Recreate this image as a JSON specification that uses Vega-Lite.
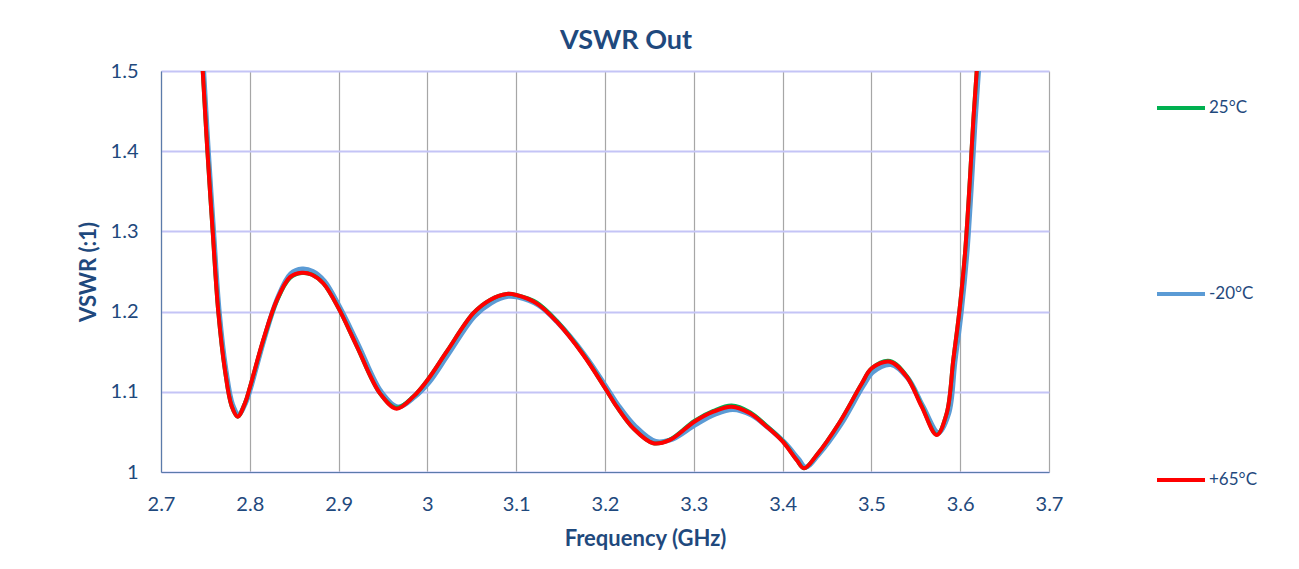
{
  "$schema": "https://vega.github.io/schema/vega-lite/v6.json",
  "width": 888,
  "height": 401,
  "autosize": {"type": "none"},
  "padding": {"left": 161, "top": 71, "right": 250, "bottom": 97},
  "background": "white",
  "title": {
    "text": "VSWR Out",
    "font": "Lato",
    "fontSize": 27,
    "fontWeight": "bold",
    "color": "#1F497D",
    "anchor": "middle",
    "frame": "group",
    "baseline": "bottom",
    "offset": -21,
    "dx": 21
  },
  "config": {
    "view": {"stroke": null},
    "font": "Lato"
  },
  "datasets": {
    "vswr": [
      {"f": 2.743, "v": 1.59, "s": "-20°C"},
      {"f": 2.748, "v": 1.5, "s": "-20°C"},
      {"f": 2.7532, "v": 1.401, "s": "-20°C"},
      {"f": 2.7592, "v": 1.3, "s": "-20°C"},
      {"f": 2.7655, "v": 1.2, "s": "-20°C"},
      {"f": 2.773, "v": 1.128, "s": "-20°C"},
      {"f": 2.7806, "v": 1.084, "s": "-20°C"},
      {"f": 2.7874, "v": 1.072, "s": "-20°C"},
      {"f": 2.7956, "v": 1.087, "s": "-20°C"},
      {"f": 2.801, "v": 1.105, "s": "-20°C"},
      {"f": 2.816, "v": 1.165, "s": "-20°C"},
      {"f": 2.831, "v": 1.216, "s": "-20°C"},
      {"f": 2.846, "v": 1.247, "s": "-20°C"},
      {"f": 2.859, "v": 1.253, "s": "-20°C"},
      {"f": 2.871, "v": 1.25, "s": "-20°C"},
      {"f": 2.884, "v": 1.238, "s": "-20°C"},
      {"f": 2.901, "v": 1.206, "s": "-20°C"},
      {"f": 2.922, "v": 1.159, "s": "-20°C"},
      {"f": 2.948, "v": 1.1, "s": "-20°C"},
      {"f": 2.967, "v": 1.081, "s": "-20°C"},
      {"f": 2.986, "v": 1.094, "s": "-20°C"},
      {"f": 3.002, "v": 1.112, "s": "-20°C"},
      {"f": 3.023, "v": 1.146, "s": "-20°C"},
      {"f": 3.053, "v": 1.194, "s": "-20°C"},
      {"f": 3.072, "v": 1.211, "s": "-20°C"},
      {"f": 3.091, "v": 1.219, "s": "-20°C"},
      {"f": 3.102, "v": 1.218, "s": "-20°C"},
      {"f": 3.125, "v": 1.208, "s": "-20°C"},
      {"f": 3.147, "v": 1.186, "s": "-20°C"},
      {"f": 3.177, "v": 1.146, "s": "-20°C"},
      {"f": 3.202, "v": 1.105, "s": "-20°C"},
      {"f": 3.215, "v": 1.083, "s": "-20°C"},
      {"f": 3.234, "v": 1.057, "s": "-20°C"},
      {"f": 3.257, "v": 1.038, "s": "-20°C"},
      {"f": 3.276, "v": 1.041, "s": "-20°C"},
      {"f": 3.302, "v": 1.059, "s": "-20°C"},
      {"f": 3.324, "v": 1.072, "s": "-20°C"},
      {"f": 3.344, "v": 1.078, "s": "-20°C"},
      {"f": 3.365, "v": 1.071, "s": "-20°C"},
      {"f": 3.384, "v": 1.055, "s": "-20°C"},
      {"f": 3.402, "v": 1.037, "s": "-20°C"},
      {"f": 3.418, "v": 1.016, "s": "-20°C"},
      {"f": 3.426, "v": 1.006, "s": "-20°C"},
      {"f": 3.44, "v": 1.021, "s": "-20°C"},
      {"f": 3.466, "v": 1.06, "s": "-20°C"},
      {"f": 3.491, "v": 1.108, "s": "-20°C"},
      {"f": 3.502, "v": 1.125, "s": "-20°C"},
      {"f": 3.522, "v": 1.134, "s": "-20°C"},
      {"f": 3.541, "v": 1.117, "s": "-20°C"},
      {"f": 3.558, "v": 1.082, "s": "-20°C"},
      {"f": 3.5755, "v": 1.049, "s": "-20°C"},
      {"f": 3.587, "v": 1.073, "s": "-20°C"},
      {"f": 3.594, "v": 1.137, "s": "-20°C"},
      {"f": 3.601, "v": 1.198, "s": "-20°C"},
      {"f": 3.6074, "v": 1.271, "s": "-20°C"},
      {"f": 3.6131, "v": 1.367, "s": "-20°C"},
      {"f": 3.6168, "v": 1.438, "s": "-20°C"},
      {"f": 3.6206, "v": 1.5, "s": "-20°C"},
      {"f": 3.625, "v": 1.59, "s": "-20°C"},

      {"f": 2.742, "v": 1.59, "s": "25°C"},
      {"f": 2.747, "v": 1.5, "s": "25°C"},
      {"f": 2.7522, "v": 1.401, "s": "25°C"},
      {"f": 2.7582, "v": 1.3, "s": "25°C"},
      {"f": 2.7645, "v": 1.2, "s": "25°C"},
      {"f": 2.772, "v": 1.127, "s": "25°C"},
      {"f": 2.7796, "v": 1.082, "s": "25°C"},
      {"f": 2.7864, "v": 1.069, "s": "25°C"},
      {"f": 2.7946, "v": 1.086, "s": "25°C"},
      {"f": 2.8002, "v": 1.106, "s": "25°C"},
      {"f": 2.8152, "v": 1.164, "s": "25°C"},
      {"f": 2.8303, "v": 1.213, "s": "25°C"},
      {"f": 2.8453, "v": 1.242, "s": "25°C"},
      {"f": 2.8585, "v": 1.248, "s": "25°C"},
      {"f": 2.87, "v": 1.246, "s": "25°C"},
      {"f": 2.8829, "v": 1.235, "s": "25°C"},
      {"f": 2.9, "v": 1.204, "s": "25°C"},
      {"f": 2.9204, "v": 1.157, "s": "25°C"},
      {"f": 2.9466, "v": 1.098, "s": "25°C"},
      {"f": 2.9654, "v": 1.08, "s": "25°C"},
      {"f": 2.9841, "v": 1.094, "s": "25°C"},
      {"f": 3.0003, "v": 1.115, "s": "25°C"},
      {"f": 3.0217, "v": 1.15, "s": "25°C"},
      {"f": 3.0517, "v": 1.198, "s": "25°C"},
      {"f": 3.0705, "v": 1.2145, "s": "25°C"},
      {"f": 3.0893, "v": 1.222, "s": "25°C"},
      {"f": 3.1001, "v": 1.2207, "s": "25°C"},
      {"f": 3.123, "v": 1.2113, "s": "25°C"},
      {"f": 3.1456, "v": 1.1884, "s": "25°C"},
      {"f": 3.1756, "v": 1.1465, "s": "25°C"},
      {"f": 3.2003, "v": 1.1043, "s": "25°C"},
      {"f": 3.2132, "v": 1.0815, "s": "25°C"},
      {"f": 3.2319, "v": 1.0544, "s": "25°C"},
      {"f": 3.2544, "v": 1.0358, "s": "25°C"},
      {"f": 3.2732, "v": 1.0405, "s": "25°C"},
      {"f": 3.3006, "v": 1.0637, "s": "25°C"},
      {"f": 3.322, "v": 1.0762, "s": "25°C"},
      {"f": 3.3426, "v": 1.0828, "s": "25°C"},
      {"f": 3.3633, "v": 1.0745, "s": "25°C"},
      {"f": 3.3821, "v": 1.0575, "s": "25°C"},
      {"f": 3.4002, "v": 1.0385, "s": "25°C"},
      {"f": 3.4158, "v": 1.0152, "s": "25°C"},
      {"f": 3.4241, "v": 1.0046, "s": "25°C"},
      {"f": 3.4384, "v": 1.0212, "s": "25°C"},
      {"f": 3.4646, "v": 1.0627, "s": "25°C"},
      {"f": 3.489, "v": 1.11, "s": "25°C"},
      {"f": 3.5003, "v": 1.1293, "s": "25°C"},
      {"f": 3.5209, "v": 1.1385, "s": "25°C"},
      {"f": 3.5397, "v": 1.1198, "s": "25°C"},
      {"f": 3.5566, "v": 1.0825, "s": "25°C"},
      {"f": 3.5735, "v": 1.0465, "s": "25°C"},
      {"f": 3.5848, "v": 1.0732, "s": "25°C"},
      {"f": 3.5922, "v": 1.1397, "s": "25°C"},
      {"f": 3.599, "v": 1.1999, "s": "25°C"},
      {"f": 3.6054, "v": 1.2727, "s": "25°C"},
      {"f": 3.6111, "v": 1.3683, "s": "25°C"},
      {"f": 3.6148, "v": 1.4389, "s": "25°C"},
      {"f": 3.6186, "v": 1.5, "s": "25°C"},
      {"f": 3.623, "v": 1.59, "s": "25°C"},

      {"f": 2.742, "v": 1.59, "s": "+65°C"},
      {"f": 2.747, "v": 1.5, "s": "+65°C"},
      {"f": 2.7522, "v": 1.401, "s": "+65°C"},
      {"f": 2.7582, "v": 1.3, "s": "+65°C"},
      {"f": 2.7645, "v": 1.2, "s": "+65°C"},
      {"f": 2.772, "v": 1.127, "s": "+65°C"},
      {"f": 2.7796, "v": 1.082, "s": "+65°C"},
      {"f": 2.7864, "v": 1.069, "s": "+65°C"},
      {"f": 2.7946, "v": 1.086, "s": "+65°C"},
      {"f": 2.8002, "v": 1.106, "s": "+65°C"},
      {"f": 2.8152, "v": 1.165, "s": "+65°C"},
      {"f": 2.8303, "v": 1.214, "s": "+65°C"},
      {"f": 2.8453, "v": 1.243, "s": "+65°C"},
      {"f": 2.8585, "v": 1.2485, "s": "+65°C"},
      {"f": 2.87, "v": 1.246, "s": "+65°C"},
      {"f": 2.8829, "v": 1.235, "s": "+65°C"},
      {"f": 2.9, "v": 1.204, "s": "+65°C"},
      {"f": 2.9204, "v": 1.157, "s": "+65°C"},
      {"f": 2.9466, "v": 1.098, "s": "+65°C"},
      {"f": 2.9654, "v": 1.079, "s": "+65°C"},
      {"f": 2.9841, "v": 1.094, "s": "+65°C"},
      {"f": 3.0003, "v": 1.115, "s": "+65°C"},
      {"f": 3.0217, "v": 1.15, "s": "+65°C"},
      {"f": 3.0517, "v": 1.198, "s": "+65°C"},
      {"f": 3.0705, "v": 1.2145, "s": "+65°C"},
      {"f": 3.0893, "v": 1.222, "s": "+65°C"},
      {"f": 3.1001, "v": 1.2207, "s": "+65°C"},
      {"f": 3.123, "v": 1.2103, "s": "+65°C"},
      {"f": 3.1456, "v": 1.1874, "s": "+65°C"},
      {"f": 3.1756, "v": 1.1459, "s": "+65°C"},
      {"f": 3.2003, "v": 1.1043, "s": "+65°C"},
      {"f": 3.2132, "v": 1.0815, "s": "+65°C"},
      {"f": 3.2319, "v": 1.0544, "s": "+65°C"},
      {"f": 3.2544, "v": 1.0358, "s": "+65°C"},
      {"f": 3.2732, "v": 1.04, "s": "+65°C"},
      {"f": 3.3006, "v": 1.0627, "s": "+65°C"},
      {"f": 3.322, "v": 1.0752, "s": "+65°C"},
      {"f": 3.3426, "v": 1.0815, "s": "+65°C"},
      {"f": 3.3633, "v": 1.0732, "s": "+65°C"},
      {"f": 3.3821, "v": 1.0565, "s": "+65°C"},
      {"f": 3.4002, "v": 1.0378, "s": "+65°C"},
      {"f": 3.4158, "v": 1.015, "s": "+65°C"},
      {"f": 3.4241, "v": 1.0046, "s": "+65°C"},
      {"f": 3.4384, "v": 1.0212, "s": "+65°C"},
      {"f": 3.4646, "v": 1.0627, "s": "+65°C"},
      {"f": 3.489, "v": 1.11, "s": "+65°C"},
      {"f": 3.5003, "v": 1.1293, "s": "+65°C"},
      {"f": 3.5209, "v": 1.1375, "s": "+65°C"},
      {"f": 3.5397, "v": 1.1188, "s": "+65°C"},
      {"f": 3.5566, "v": 1.0815, "s": "+65°C"},
      {"f": 3.5735, "v": 1.0461, "s": "+65°C"},
      {"f": 3.5848, "v": 1.0732, "s": "+65°C"},
      {"f": 3.5922, "v": 1.1397, "s": "+65°C"},
      {"f": 3.599, "v": 1.1999, "s": "+65°C"},
      {"f": 3.6054, "v": 1.2727, "s": "+65°C"},
      {"f": 3.6111, "v": 1.3683, "s": "+65°C"},
      {"f": 3.6148, "v": 1.4389, "s": "+65°C"},
      {"f": 3.6186, "v": 1.5, "s": "+65°C"},
      {"f": 3.623, "v": 1.59, "s": "+65°C"}
    ]
  },
  "data": {"name": "vswr"},
  "encoding": {
    "x": {
      "field": "f",
      "type": "quantitative",
      "scale": {"domain": [2.7, 3.7], "nice": false, "zero": false},
      "axis": {
        "title": "Frequency (GHz)",
        "values": [2.7, 2.8, 2.9, 3.0, 3.1, 3.2, 3.3, 3.4, 3.5, 3.6, 3.7],
        "format": ".1~f",
        "grid": true,
        "gridColor": "#a6a6a6",
        "gridWidth": 1.2,
        "domainColor": "#5b7bab",
        "domainWidth": 1.2,
        "ticks": false,
        "labelFont": "Lato",
        "labelFontSize": 20,
        "labelColor": "#1F497D",
        "labelPadding": 22,
        "labelFlush": false,
        "titleFont": "Lato",
        "titleFontSize": 22,
        "titleFontWeight": "bold",
        "titleColor": "#1F497D",
        "titlePadding": 14,
        "titleX": 484
      }
    },
    "y": {
      "field": "v",
      "type": "quantitative",
      "scale": {"domain": [1, 1.5], "nice": false, "zero": false},
      "axis": {
        "title": "VSWR (:1)",
        "values": [1, 1.1, 1.2, 1.3, 1.4, 1.5],
        "format": ".1~f",
        "grid": true,
        "gridColor": "#c4c4f6",
        "gridWidth": 1.8,
        "domainColor": "#5b7bab",
        "domainWidth": 1.2,
        "ticks": false,
        "labelFont": "Lato",
        "labelFontSize": 20,
        "labelColor": "#1F497D",
        "labelPadding": 23,
        "labelFlush": false,
        "titleFont": "Lato",
        "titleFontSize": 22,
        "titleFontWeight": "bold",
        "titleColor": "#1F497D",
        "titlePadding": 10
      }
    },
    "color": {
      "field": "s",
      "type": "nominal",
      "scale": {"domain": ["25°C", "-20°C", "+65°C"], "range": ["#00b050", "#5b9bd5", "#ff0000"]},
      "legend": {
        "title": null,
        "orient": "none",
        "legendX": 994,
        "legendY": 11,
        "padding": 0,
        "symbolType": "stroke",
        "symbolSize": 2304,
        "symbolStrokeWidth": 4,
        "labelOffset": 2,
        "rowPadding": 152,
        "labelFont": "Lato",
        "labelFontSize": 17,
        "labelColor": "#1F497D"
      }
    }
  },
  "layer": [
    {
      "transform": [{"filter": "datum.s === '-20°C'"}],
      "mark": {"type": "line", "interpolate": "catmull-rom", "strokeWidth": 5, "clip": true}
    },
    {
      "transform": [{"filter": "datum.s === '25°C'"}],
      "mark": {"type": "line", "interpolate": "catmull-rom", "strokeWidth": 4, "clip": true}
    },
    {
      "transform": [{"filter": "datum.s === '+65°C'"}],
      "mark": {"type": "line", "interpolate": "catmull-rom", "strokeWidth": 4, "clip": true}
    }
  ]
}
